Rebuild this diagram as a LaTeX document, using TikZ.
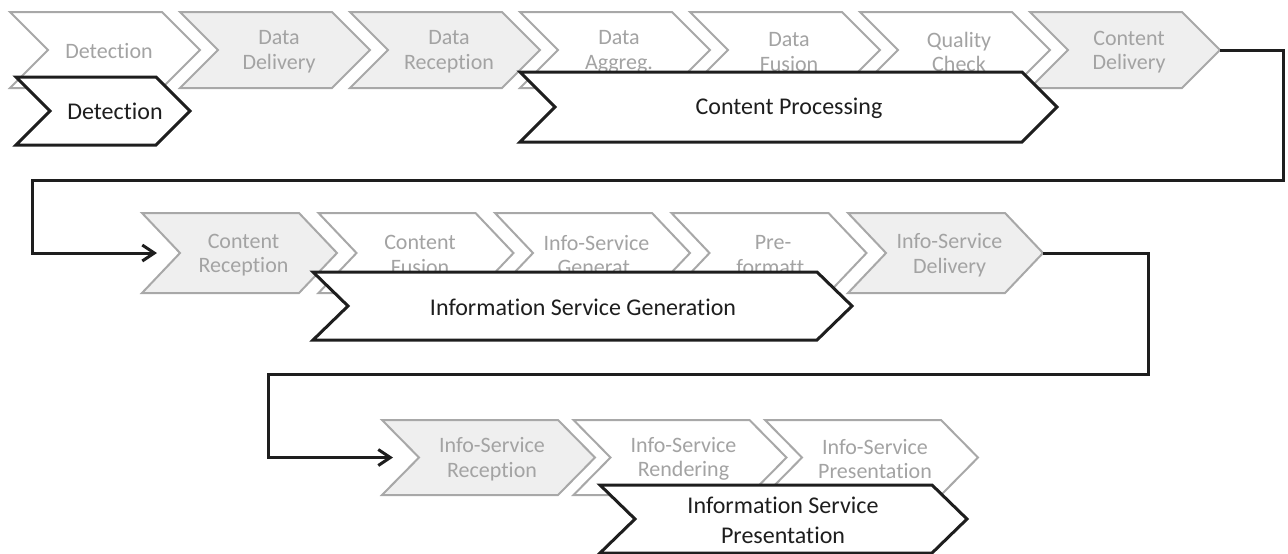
\documentclass[tikz,border=0pt]{standalone}
\usepackage{fontspec}
\setmainfont{Carlito}[Ligatures={NoCommon,NoRequired,NoContextual}]
\usetikzlibrary{arrows.meta}
\definecolor{chevfill}{HTML}{EFEFEF}
\definecolor{chevline}{HTML}{A8A8A8}
\definecolor{chevtext}{HTML}{A3A3A3}
\definecolor{darkline}{HTML}{1E1E1E}
% #1 style, #2 left x, #3 top y, #4 tip x, #5 bottom y, #6 depth, #7 name
\newcommand{\chevpath}[7]{%
  \path[#1] (#2,#3) -- ({#4-#6},#3) -- (#4,{(#3+#5)/2}) -- ({#4-#6},#5) -- (#2,#5) -- ({#2+#6},{(#3+#5)/2}) -- cycle;
  \coordinate (#7-tip) at (#4,{(#3+#5)/2});
}
\tikzset{
  graychev/.style={draw=chevline, line width=1pt, fill=chevfill, line join=miter},
  whitechev/.style={draw=chevline, line width=1pt, fill=white, line join=miter},
  mainchev/.style={draw=darkline, line width=1.5pt, fill=white, line join=miter},
  graylabel/.style={text=chevtext, font=\fontsize{11}{12.3}\selectfont, align=center, inner sep=0pt},
  blacklabel/.style={text=darkline, font=\fontsize{12}{15}\selectfont, align=center, inner sep=0pt},
  conn/.style={draw=darkline, line width=1.5pt, -{Straight Barb[length=6pt,width=8pt]}},
}
\begin{document}
\begin{tikzpicture}[x=0.5pt, y=-0.5pt]
\useasboundingbox (0,0) rectangle (1288,553);
% top row
\chevpath{whitechev}{10}{12}{200}{88}{38}{t1}
\node[graylabel] (t1l) at (109,51) {Detection};
\chevpath{graychev}{180}{12}{370}{88}{38}{t2}
\node[graylabel] (t2l) at (279,52) {Data\\Delivery};
\chevpath{graychev}{350}{12}{540}{88}{38}{t3}
\node[graylabel] (t3l) at (449,52) {Data\\Reception};
\chevpath{whitechev}{520}{12}{710}{88}{38}{t4}
\node[graylabel] (t4l) at (619,52) {Data\\Aggreg.};
\chevpath{whitechev}{690}{12}{880}{88}{38}{t5}
\node[graylabel] (t5l) at (789,52) {Data\\Fusion};
\chevpath{whitechev}{860}{12}{1050}{88}{38}{t6}
\node[graylabel] (t6l) at (959,52) {Quality\\Check};
\chevpath{graychev}{1030}{12}{1220}{88}{38}{cd}
\node[graylabel] (t7l) at (1129,52) {Content\\Delivery};
% middle row
\chevpath{graychev}{142}{213}{337}{293}{38}{cr}
\node[graylabel] (m1l) at (243.5,255) {Content\\Reception};
\chevpath{whitechev}{318.5}{213}{513.5}{293}{38}{m2}
\node[graylabel] (m2l) at (420,255) {Content\\Fusion};
\chevpath{whitechev}{495}{213}{690}{293}{38}{m3}
\node[graylabel] (m3l) at (596.5,255) {Info-Service\\Generat.};
\chevpath{whitechev}{671.5}{213}{866.5}{293}{38}{m4}
\node[graylabel] (m4l) at (773,255) {Pre-\\formatt.};
\chevpath{graychev}{848}{213}{1043}{293}{38}{isd}
\node[graylabel] (m5l) at (949.5,255) {Info-Service\\Delivery};
% bottom row
\chevpath{graychev}{382}{420}{595}{495}{37}{isr}
\node[graylabel] (b1l) at (492,459) {Info-Service\\Reception};
\chevpath{whitechev}{573.5}{420}{786.5}{495}{37}{b2}
\node[graylabel] (b2l) at (683.5,459) {Info-Service\\Rendering};
\chevpath{whitechev}{765}{420}{978}{495}{37}{b3}
\node[graylabel] (b3l) at (875,459) {Info-Service\\Presentation};
% main phases
\chevpath{mainchev}{16}{77}{190}{145}{34}{p1}
\node[blacklabel] (p1l) at (115,111) {Detection};
\chevpath{mainchev}{520}{72}{1057}{142}{35}{p2}
\node[blacklabel] (p2l) at (789,108) {Content Processing};
\chevpath{mainchev}{313}{272}{852}{340}{35}{p3}
\node[blacklabel] (p3l) at (583,307) {Information Service Generation};
\chevpath{mainchev}{600}{485}{967}{553}{35}{p4}
\node[blacklabel] (p4l) at (783,520) {Information Service\\Presentation};
% connectors
\coordinate (b1) at (1283,180);
\coordinate (b2) at (32,253);
\coordinate (cr-in) at (157,253);
\draw[conn] (cd-tip) -| (b1) -| (b2) -- (cr-in);
\coordinate (b3) at (1148,374);
\coordinate (b4) at (268,457.5);
\coordinate (isr-in) at (393,457.5);
\draw[conn] (isd-tip) -| (b3) -| (b4) -- (isr-in);
\end{tikzpicture}
\end{document}
